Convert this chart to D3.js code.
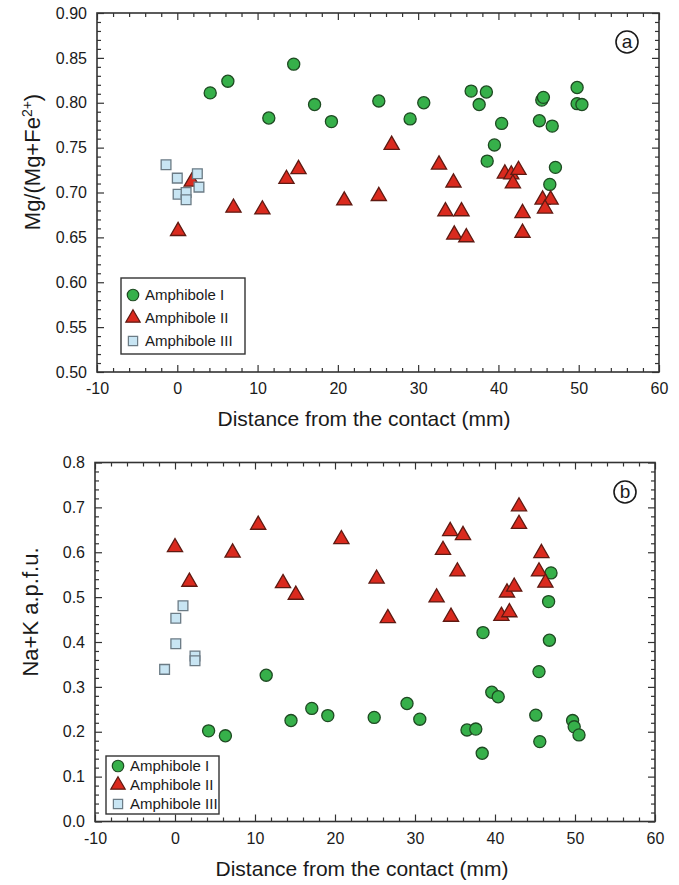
<!DOCTYPE html>
<html>
<head>
<meta charset="utf-8">
<script src="https://cdn.jsdelivr.net/npm/d3@7"></script>
<style>
  body { margin: 0; background: #fff; }
  svg text { font-family: "Liberation Sans", Arial, Helvetica, sans-serif; fill: #1a1a1a; }
</style>
</head>
<body>
<svg id="fig" width="679" height="885"></svg>
<script>
// Panel a: Mg/(Mg+Fe2+) vs distance (mm)
const mgAmphI = [[4.1,0.811],[6.3,0.824],[14.5,0.843],[11.4,0.783],[17.1,0.798],[19.2,0.779],[25.1,0.802],[29.0,0.782],[30.7,0.800],[36.6,0.813],[37.6,0.798],[38.5,0.812],[38.6,0.735],[39.5,0.753],[40.4,0.777],[45.1,0.780],[45.4,0.803],[45.6,0.806],[46.4,0.709],[46.7,0.774],[47.1,0.728],[49.8,0.817],[49.8,0.799],[50.4,0.798]];
const mgAmphII = [[0.1,0.657],[1.8,0.712],[7.0,0.683],[10.6,0.681],[13.6,0.715],[15.1,0.726],[20.8,0.691],[25.1,0.696],[26.7,0.753],[32.6,0.731],[34.4,0.711],[33.4,0.679],[35.4,0.679],[34.5,0.653],[36.0,0.650],[40.8,0.721],[41.6,0.720],[42.5,0.725],[41.8,0.710],[43.0,0.677],[43.0,0.655],[45.5,0.692],[46.5,0.692],[45.8,0.682]];
const mgAmphIII = [[-1.4,0.731],[0.0,0.716],[2.5,0.721],[2.7,0.706],[0.1,0.698],[1.1,0.700],[1.1,0.692]];

// Panel b: Na+K a.p.f.u. vs distance (mm)
const nakAmphI = [[4.2,0.202],[6.3,0.191],[11.4,0.326],[14.5,0.225],[17.1,0.252],[19.1,0.236],[24.9,0.232],[29.0,0.263],[30.6,0.228],[36.5,0.204],[37.6,0.206],[38.4,0.152],[38.5,0.421],[39.6,0.288],[40.4,0.278],[45.1,0.237],[45.5,0.334],[45.6,0.178],[46.7,0.490],[46.8,0.404],[47.0,0.554],[49.7,0.225],[49.9,0.211],[50.5,0.193]];
const nakAmphII = [[0.0,0.611],[1.8,0.534],[7.2,0.599],[10.4,0.661],[13.5,0.531],[15.1,0.505],[20.8,0.629],[25.2,0.541],[26.6,0.453],[32.7,0.499],[33.5,0.605],[34.4,0.647],[34.5,0.456],[35.3,0.557],[36.0,0.638],[40.8,0.458],[41.8,0.466],[41.5,0.510],[42.4,0.523],[43.0,0.702],[43.0,0.663],[45.8,0.598],[45.5,0.557],[46.3,0.532]];
const nakAmphIII = [[-1.3,0.339],[0.1,0.396],[0.1,0.453],[1.0,0.481],[2.5,0.369],[2.5,0.358]];

const seriesNames = ["Amphibole I", "Amphibole II", "Amphibole III"];
const xTickLabels = [-10, 0, 10, 20, 30, 40, 50, 60];

const svg = d3.select("svg#fig");

const styles = {
  "Amphibole I": { shape: d3.symbolCircle, size: 115, fill: "#36b04a", stroke: "#1e4a22" },
  "Amphibole II": { shape: d3.symbolTriangle, size: 100, fill: "#da2a1e", stroke: "#5e1a12" },
  "Amphibole III": { shape: d3.symbolSquare, size: 95, fill: "#c8e5f3", stroke: "#6b7b85" }
};

// plain hyphen for negatives, as in the figure
const fmtInt = (d) => String(d);

const drawPanel = function (cfg) {
  const g = svg.append("g");
  const x = d3.scaleLinear([-10, 60], [cfg.left, cfg.right]);
  const y = d3.scaleLinear(cfg.yDomain, [cfg.bottom, cfg.top]);

  const xMajor = xTickLabels;
  const xMinor = d3.range(-10, 60.01, 2).filter((d) => d % 10 !== 0);
  const yMajor = d3.range(cfg.yDomain[0], cfg.yDomain[1] + 1e-9, cfg.yStep);
  const yMinor = d3.range(cfg.yDomain[0], cfg.yDomain[1] + 1e-9, cfg.yMinorStep)
    .filter((v) => Math.abs(Math.round(v / cfg.yStep) * cfg.yStep - v) > 1e-6);

  const styleAxis = (sel) => {
    sel.select(".domain").remove();
    sel.selectAll(".tick line").attr("stroke", "#333").attr("stroke-width", 1.2);
    sel.selectAll(".tick text").style("font-size", "16px").attr("fill", "#1a1a1a");
  };

  // bottom + top
  g.append("g").attr("transform", `translate(0,${cfg.bottom})`)
    .call(d3.axisBottom(x).tickValues(xMajor).tickSize(-7).tickPadding(11).tickFormat(fmtInt))
    .call(styleAxis);
  g.append("g").attr("transform", `translate(0,${cfg.bottom})`)
    .call(d3.axisBottom(x).tickValues(xMinor).tickSize(-4).tickFormat(""))
    .call(styleAxis);
  g.append("g").attr("transform", `translate(0,${cfg.top})`)
    .call(d3.axisTop(x).tickValues(xMajor).tickSize(-7).tickFormat(""))
    .call(styleAxis);
  g.append("g").attr("transform", `translate(0,${cfg.top})`)
    .call(d3.axisTop(x).tickValues(xMinor).tickSize(-4).tickFormat(""))
    .call(styleAxis);

  // left + right
  g.append("g").attr("transform", `translate(${cfg.left},0)`)
    .call(d3.axisLeft(y).tickValues(yMajor).tickSize(-7).tickPadding(10).tickFormat(d3.format(cfg.yFormat)))
    .call(styleAxis);
  g.append("g").attr("transform", `translate(${cfg.left},0)`)
    .call(d3.axisLeft(y).tickValues(yMinor).tickSize(-4).tickFormat(""))
    .call(styleAxis);
  g.append("g").attr("transform", `translate(${cfg.right},0)`)
    .call(d3.axisRight(y).tickValues(yMajor).tickSize(-7).tickFormat(""))
    .call(styleAxis);
  g.append("g").attr("transform", `translate(${cfg.right},0)`)
    .call(d3.axisRight(y).tickValues(yMinor).tickSize(-4).tickFormat(""))
    .call(styleAxis);

  g.append("rect")
    .attr("x", cfg.left).attr("y", cfg.top)
    .attr("width", cfg.right - cfg.left).attr("height", cfg.bottom - cfg.top)
    .attr("fill", "none").attr("stroke", "#333").attr("stroke-width", 1.6);

  // points, drawn in series order
  cfg.series.forEach((pts, i) => {
    const st = styles[seriesNames[i]];
    g.append("g").selectAll("path")
      .data(pts)
      .join("path")
      .attr("transform", (d) => `translate(${x(d[0])},${y(d[1])})`)
      .attr("d", d3.symbol(st.shape, st.size))
      .attr("fill", st.fill)
      .attr("stroke", st.stroke)
      .attr("stroke-width", 1.3);
  });

  // legend
  const lg = cfg.legend;
  g.append("rect")
    .attr("x", lg.x).attr("y", lg.y).attr("width", lg.w).attr("height", lg.h)
    .attr("fill", "#fff").attr("stroke", "#333").attr("stroke-width", 1.4);
  seriesNames.forEach((name, i) => {
    const st = styles[name];
    const cy = lg.y + lg.first + i * lg.gap;
    g.append("path")
      .attr("transform", `translate(${lg.x + 12},${cy})`)
      .attr("d", d3.symbol(st.shape, st.size * 0.9))
      .attr("fill", st.fill).attr("stroke", st.stroke).attr("stroke-width", 1.2);
    g.append("text")
      .attr("x", lg.x + 24).attr("y", cy + 5)
      .style("font-size", "15px")
      .text(name);
  });

  // panel letter
  g.append("circle")
    .attr("cx", cfg.letterPos[0]).attr("cy", cfg.letterPos[1]).attr("r", 11)
    .attr("fill", "#fff").attr("stroke", "#1a1a1a").attr("stroke-width", 1.6);
  g.append("text")
    .attr("x", cfg.letterPos[0]).attr("y", cfg.letterPos[1] + 6)
    .attr("text-anchor", "middle").style("font-size", "19px")
    .text(cfg.letter);

  // axis titles
  g.append("text")
    .attr("x", cfg.xTitleX).attr("y", cfg.bottom + 54)
    .attr("text-anchor", "middle").style("font-size", "21px")
    .text("Distance from the contact (mm)");

  const yt = g.append("text")
    .attr("transform", `translate(${cfg.yTitlePos[0]},${cfg.yTitlePos[1]}) rotate(-90)`)
    .attr("text-anchor", "middle").style("font-size", "22px");
  cfg.yTitle(yt);
};

drawPanel({
  left: 97, right: 659, top: 13, bottom: 372,
  yDomain: [0.5, 0.9], yStep: 0.05, yMinorStep: 0.01, yFormat: ".2f",
  series: [mgAmphI, mgAmphII, mgAmphIII],
  legend: { x: 121, y: 278, w: 124, h: 76, first: 17, gap: 23 },
  letter: "a", letterPos: [627, 42],
  xTitleX: 364,
  yTitlePos: [40, 162],
  yTitle: (t) => {
    t.append("tspan").text("Mg/(Mg+Fe");
    t.append("tspan").attr("baseline-shift", "super").style("font-size", "14px").text("2+");
    t.append("tspan").text(")");
  }
});

drawPanel({
  left: 95, right: 655, top: 462.5, bottom: 821.5,
  yDomain: [0, 0.8], yStep: 0.1, yMinorStep: 0.02, yFormat: ".1f",
  series: [nakAmphI, nakAmphII, nakAmphIII],
  legend: { x: 106, y: 756, w: 113, h: 58, first: 10, gap: 19 },
  letter: "b", letterPos: [625, 492],
  xTitleX: 362,
  yTitlePos: [38, 612],
  yTitle: (t) => t.text("Na+K a.p.f.u.")
});
</script>
</body>
</html>
